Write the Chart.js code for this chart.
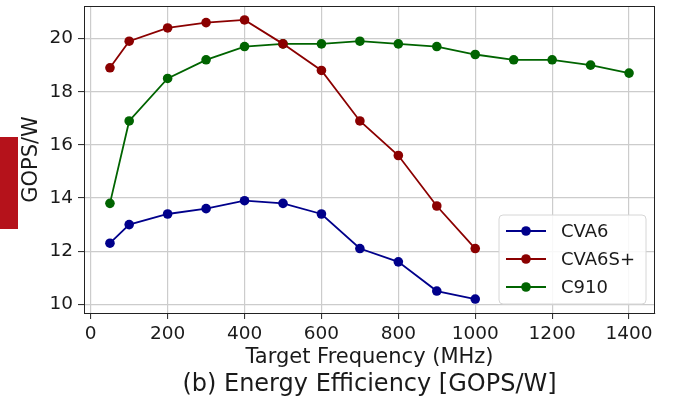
<!DOCTYPE html>
<html>
<head>
<meta charset="utf-8">
<script src="https://cdn.jsdelivr.net/npm/chart.js@4/dist/chart.umd.min.js"></script>
<style>
  html, body { margin: 0; padding: 0; background: #fff; }
  #wrap { position: relative; width: 678px; height: 396px; }
  #mark { position: absolute; left: 0; top: 137px; width: 18px; height: 92px; background: #b5121b; }
</style>
</head>
<body>
<div id="wrap">
  <canvas id="effChart" width="678" height="396"></canvas>
  <div id="mark"></div>
</div>
<script>
const freqCva6 = [50, 100, 200, 300, 400, 500, 600, 700, 800, 900, 1000];
const effCva6 = [12.3, 13.0, 13.4, 13.6, 13.9, 13.8, 13.4, 12.1, 11.6, 10.5, 10.2];

const freqCva6s = [50, 100, 200, 300, 400, 500, 600, 700, 800, 900, 1000];
const effCva6s = [18.9, 19.9, 20.4, 20.6, 20.7, 19.8, 18.8, 16.9, 15.6, 13.7, 12.1];

const freqC910 = [50, 100, 200, 300, 400, 500, 600, 700, 800, 900, 1000, 1100, 1200, 1300, 1400];
const effC910 = [13.8, 16.9, 18.5, 19.2, 19.7, 19.8, 19.8, 19.9, 19.8, 19.7, 19.4, 19.2, 19.2, 19.0, 18.7];

const xTicks = [0, 200, 400, 600, 800, 1000, 1200, 1400];
const yTicks = [10, 12, 14, 16, 18, 20];

const FONT = "'DejaVu Sans', sans-serif";

function toPoints(xs, ys) {
  return xs.map((x, i) => ({ x: x, y: ys[i] }));
}

function series(label, xs, ys, color) {
  return {
    label: label,
    data: toPoints(xs, ys),
    borderColor: color,
    backgroundColor: color,
    borderWidth: 1.8,
    pointRadius: 4.8,
    pointHoverRadius: 4.8,
    pointBorderWidth: 0,
    tension: 0,
  };
}

// top/right spines, inner legend and the caption under the axis
const framePlugin = {
  id: "frame",
  afterDatasetsDraw(chart) {
    const { ctx, chartArea: a } = chart;
    ctx.save();
    ctx.strokeStyle = "#222";
    ctx.lineWidth = 1;
    ctx.strokeRect(a.left + 0.5, a.top + 0.5, a.right - a.left - 1, a.bottom - a.top);

    // legend
    const w = 147, h = 89;
    const lx = a.right - 9 - w, ly = a.bottom - 9 - h;
    ctx.fillStyle = "rgba(255,255,255,0.85)";
    ctx.strokeStyle = "#d6d6d6";
    ctx.beginPath();
    ctx.roundRect(lx, ly, w, h, 4);
    ctx.fill();
    ctx.stroke();
    ctx.font = "18px " + FONT;
    ctx.textBaseline = "middle";
    chart.data.datasets.forEach((ds, i) => {
      const y = ly + 16 + i * 28;
      ctx.strokeStyle = ds.borderColor;
      ctx.lineWidth = 1.8;
      ctx.beginPath();
      ctx.moveTo(lx + 7, y);
      ctx.lineTo(lx + 47, y);
      ctx.stroke();
      ctx.fillStyle = ds.borderColor;
      ctx.beginPath();
      ctx.arc(lx + 27, y, 4.8, 0, Math.PI * 2);
      ctx.fill();
      ctx.fillStyle = "#1a1a1a";
      ctx.fillText(ds.label, lx + 62, y + 1);
    });

    // caption
    ctx.font = "24px " + FONT;
    ctx.textAlign = "center";
    ctx.fillStyle = "#1a1a1a";
    ctx.fillText("(b) Energy Efficiency [GOPS/W]", (a.left + a.right) / 2, 385);
    ctx.restore();
  },
};

const ctx = document.getElementById("effChart").getContext("2d");

new Chart(ctx, {
  type: "line",
  data: {
    datasets: [
      series("CVA6", freqCva6, effCva6, "#00008b"),
      series("CVA6S+", freqCva6s, effCva6s, "#8b0000"),
      series("C910", freqC910, effC910, "#006400"),
    ],
  },
  options: {
    responsive: false,
    animation: false,
    layout: { padding: { left: 0, right: 23, top: 6, bottom: 26 } },
    plugins: {
      legend: { display: false },
      tooltip: { enabled: false },
    },
    scales: {
      x: {
        type: "linear",
        min: -17.5,
        max: 1467.5,
        afterBuildTicks: (scale) => {
          scale.ticks = xTicks.map((v) => ({ value: v }));
        },
        afterFit: (scale) => {
          scale.height = 57;
          scale.paddingLeft = 0;
          scale.paddingRight = 0;
        },
        ticks: {
          color: "#1a1a1a",
          font: { family: FONT, size: 18.5 },
          padding: 4,
          maxRotation: 0,
          callback: (v) => String(v),
        },
        grid: {
          color: "#cccccc",
          lineWidth: 1.2,
          tickColor: "#222",
          tickLength: 6,
          tickWidth: 1,
        },
        border: { color: "#222", width: 1 },
        title: {
          display: true,
          text: "Target Frequency (MHz)",
          color: "#1a1a1a",
          font: { family: FONT, size: 21 },
          padding: { top: 0, bottom: 0 },
        },
      },
      y: {
        type: "linear",
        min: 9.675,
        max: 21.225,
        afterBuildTicks: (scale) => {
          scale.ticks = yTicks.map((v) => ({ value: v }));
        },
        afterFit: (scale) => {
          scale.width = 84;
          scale.paddingTop = 0;
          scale.paddingBottom = 0;
        },
        ticks: {
          color: "#1a1a1a",
          font: { family: FONT, size: 18.5 },
          padding: 5,
          callback: (v) => String(v),
        },
        grid: {
          color: "#cccccc",
          lineWidth: 1.2,
          tickColor: "#222",
          tickLength: 6,
          tickWidth: 1,
        },
        border: { color: "#222", width: 1 },
        title: {
          display: true,
          text: "GOPS/W",
          color: "#1a1a1a",
          font: { family: FONT, size: 21 },
          padding: { top: 19, bottom: 0 },
        },
      },
    },
  },
  plugins: [framePlugin],
});
</script>
</body>
</html>
